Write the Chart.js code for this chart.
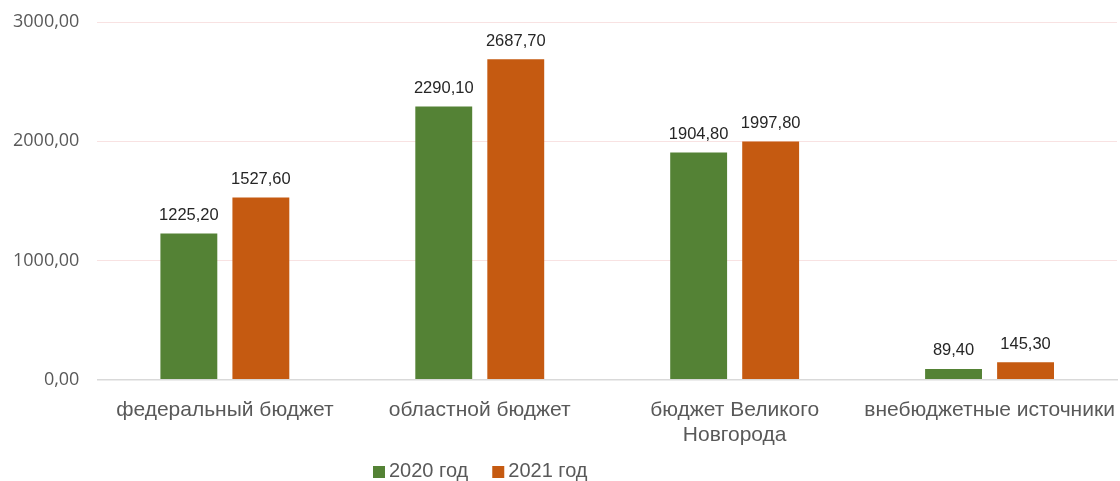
<!DOCTYPE html>
<html>
<head>
<meta charset="utf-8">
<script src="https://cdn.jsdelivr.net/npm/chart.js@4.4.1/dist/chart.umd.min.js"></script>
<style>
  html, body { margin: 0; padding: 0; background: #fff; }
  #wrap { width: 1120px; height: 481px; }
</style>
</head>
<body>
<div id="wrap"><canvas id="budgetChart"></canvas></div>
<script>
// данные
const categories = ['федеральный бюджет', 'областной бюджет', ['бюджет Великого', 'Новгорода'], 'внебюджетные источники'];
const values2020 = [1225.20, 2290.10, 1904.80, 89.40];
const values2021 = [1527.60, 2687.70, 1997.80, 145.30];
const seriesNames = ['2020 год', '2021 год'];
const yTicks = [0, 1000, 2000, 3000];

const fmt = v => v.toFixed(2).replace('.', ',');

// подписи значений над столбцами
const valueLabels = {
    id: 'valueLabels',
    afterDatasetsDraw(chart) {
        const ctx = chart.ctx;
        ctx.save();
        ctx.font = '16.5px "Liberation Sans", Arial, sans-serif';
        ctx.fillStyle = '#262626';
        ctx.textAlign = 'center';
        ctx.textBaseline = 'middle';
        chart.data.datasets.forEach((ds, i) => {
            chart.getDatasetMeta(i).data.forEach((bar, j) => {
                ctx.fillText(fmt(ds.data[j]), bar.x, bar.y - 18);
            });
        });
        ctx.restore();
    }
};

// легенда внизу (как в Excel)
const bottomLegend = {
    id: 'bottomLegend',
    afterDraw(chart) {
        const ctx = chart.ctx;
        ctx.save();
        ctx.font = '20px "Liberation Sans", Arial, sans-serif';
        ctx.textBaseline = 'middle';
        let x = 373;
        const y = 471;
        chart.data.datasets.forEach(ds => {
            ctx.fillStyle = ds.backgroundColor;
            ctx.fillRect(x, y - 5, 12, 12);
            ctx.fillStyle = '#595959';
            ctx.fillText(ds.label, x + 16, y);
            x += 16 + ctx.measureText(ds.label).width + 24;
        });
        ctx.restore();
    }
};

new Chart(document.getElementById('budgetChart'), {
    type: 'bar',
    data: {
        labels: categories,
        datasets: [
            { label: seriesNames[0], data: values2020, backgroundColor: '#548235' },
            { label: seriesNames[1], data: values2021, backgroundColor: '#C55A11' }
        ]
    },
    options: {
        responsive: true,
        maintainAspectRatio: false,
        animation: false,
        datasets: { bar: { categoryPercentage: 0.565, barPercentage: 0.79 } },
        layout: { padding: { top: 22, right: 3, left: -5, bottom: 23 } },
        scales: {
            x: {
                // последняя подпись обрезается краем, как в оригинале
                afterFit: s => { s.paddingRight = 0; },
                grid: { display: false },
                border: { color: '#d9d9d9', width: 1.5 },
                ticks: {
                    color: '#595959',
                    font: { family: '"Liberation Sans", Arial, sans-serif', size: 21 },
                    padding: 10,
                    maxRotation: 0,
                    autoSkip: false
                }
            },
            y: {
                min: 0,
                max: 3000,
                afterBuildTicks: axis => { axis.ticks = yTicks.map(v => ({ value: v })); },
                afterFit: s => { s.paddingTop = 0; },
                border: { display: false },
                grid: {
                    drawTicks: false,
                    color: c => c.tick.value === 0 ? '#d9d9d9' : '#f8e2e2'
                },
                ticks: {
                    color: '#595959',
                    font: { family: '"Open Sans", sans-serif', size: 18 },
                    padding: 18,
                    callback: v => fmt(v)
                }
            }
        },
        plugins: {
            legend: { display: false },
            tooltip: { enabled: false }
        }
    },
    plugins: [valueLabels, bottomLegend]
});
</script>
</body>
</html>
